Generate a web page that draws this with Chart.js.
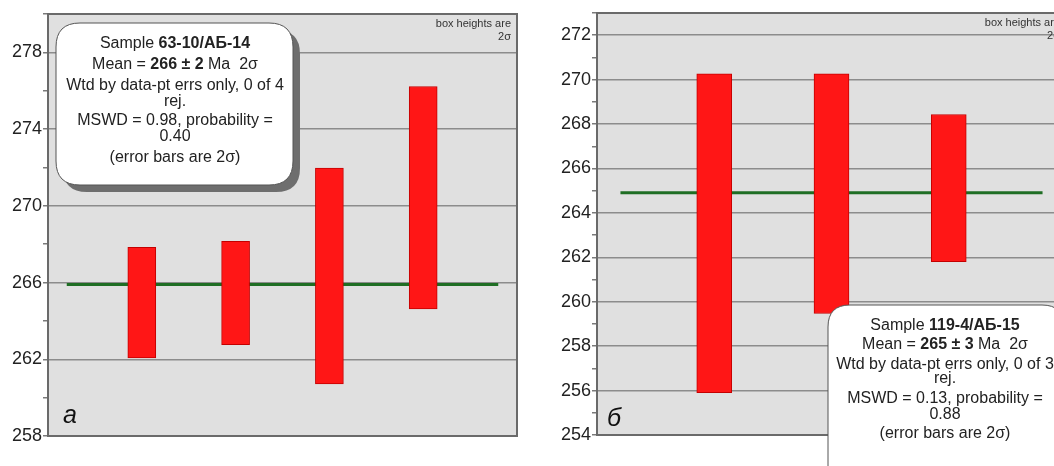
<!DOCTYPE html>
<html>
<head>
<meta charset="utf-8">
<script src="https://cdn.jsdelivr.net/npm/chart.js@4.4.1/dist/chart.umd.min.js"></script>
<style>
  html, body { margin: 0; padding: 0; background: #ffffff; overflow: hidden; width: 1054px; height: 466px; }
  canvas { position: absolute; top: 0; }
</style>
</head>
<body>
<canvas id="chartA" width="524" height="466" style="left:0px"></canvas>
<canvas id="chartB" width="550" height="466" style="left:524px"></canvas>
<script>
// ---- Panel "a": sample 63-10/АБ-14, four grain ages (Ma), 2σ boxes ----
const grainsA = [1, 2, 3, 4];
const lowA = [262.07, 262.76, 260.72, 264.62];
const highA = [267.84, 268.15, 271.97, 276.22];
const meanA = 265.9;
const meanSpanA = [0.2, 4.8];
const yRangeA = [258, 280];
const yLabelStepA = 4;

// ---- Panel "б": sample 119-4/АБ-15, three grain ages (Ma), 2σ boxes ----
const grainsB = [1, 2, 3];
const lowB = [255.91, 259.47, 261.80];
const highB = [270.26, 270.26, 268.43];
const meanB = 264.91;
const meanSpanB = [0.2, 3.8];
const yRangeB = [254, 273];
const yLabelStepB = 2;

const infoA = [
  [['Sample ', 0], ['63-10/АБ-14', 1]],
  [['Mean = ', 0], ['266 ± 2', 1], [' Ma  2σ', 0]],
  [['Wtd by data-pt errs only, 0 of 4', 0]],
  [['rej.', 0]],
  [['MSWD = 0.98, probability =', 0]],
  [['0.40', 0]],
  [['(error bars are 2σ)', 0]]
];
const infoB = [
  [['Sample ', 0], ['119-4/АБ-15', 1]],
  [['Mean = ', 0], ['265 ± 3', 1], [' Ma  2σ', 0]],
  [['Wtd by data-pt errs only, 0 of 3', 0]],
  [['rej.', 0]],
  [['MSWD = 0.13, probability =', 0]],
  [['0.88', 0]],
  [['(error bars are 2σ)', 0]]
];

const FONT = '"Liberation Sans", Arial, sans-serif';
const PLOT_BG = '#e0e0e0';
const GRID = '#8c8c8c';
const FRAME = '#6a6a6a';
const BOX_RED = '#ff1616';
const MEAN_GREEN = '#1f6e24';

function drawRich(ctx, segs, cx, y, size) {
  const fonts = segs.map(s => (s[1] ? 'bold ' : '') + size + 'px ' + FONT);
  let total = 0;
  const widths = segs.map((s, i) => { ctx.font = fonts[i]; const w = ctx.measureText(s[0]).width; total += w; return w; });
  let x = cx - total / 2;
  segs.forEach((s, i) => { ctx.font = fonts[i]; ctx.fillText(s[0], x, y); x += widths[i]; });
}

function roundRect(ctx, x, y, w, h, r) {
  ctx.beginPath();
  ctx.moveTo(x + r, y);
  ctx.lineTo(x + w - r, y);
  ctx.quadraticCurveTo(x + w, y, x + w, y + r);
  ctx.lineTo(x + w, y + h - r);
  ctx.quadraticCurveTo(x + w, y + h, x + w - r, y + h);
  ctx.lineTo(x + r, y + h);
  ctx.quadraticCurveTo(x, y + h, x, y + h - r);
  ctx.lineTo(x, y + r);
  ctx.quadraticCurveTo(x, y, x + r, y);
  ctx.closePath();
}

// Plot background, frame, panel letter, "box heights" note and the statistics box
function panelDecor(cfg) {
  return {
    id: 'panelDecor',
    beforeDraw(chart) {
      const { ctx, chartArea: a } = chart;
      ctx.save();
      ctx.fillStyle = PLOT_BG;
      ctx.fillRect(a.left, a.top, a.right - a.left, a.bottom - a.top);
      ctx.restore();
    },
    afterDraw(chart) {
      const { ctx, chartArea: a } = chart;
      ctx.save();
      // frame
      ctx.strokeStyle = FRAME;
      ctx.lineWidth = 2;
      ctx.strokeRect(a.left, a.top, a.right - a.left, a.bottom - a.top);
      // note in upper right corner
      ctx.fillStyle = '#333333';
      ctx.font = '11px ' + FONT;
      ctx.textAlign = 'right';
      ctx.textBaseline = 'alphabetic';
      ctx.fillText('box heights are', a.right - 6, a.top + 13);
      ctx.fillText('2σ', a.right - 6, a.top + 26);
      // panel letter
      ctx.textAlign = 'left';
      ctx.fillStyle = '#111111';
      ctx.font = 'italic 25px ' + FONT;
      ctx.fillText(cfg.letter, a.left + cfg.letterDx, a.bottom - cfg.letterDy);
      // statistics box
      const b = cfg.box;
      if (b.shadow) {
        ctx.fillStyle = '#6e6e6e';
        roundRect(ctx, b.x + b.shadow, b.y + b.shadow, b.w, b.h, b.r);
        ctx.fill();
      }
      ctx.fillStyle = '#ffffff';
      ctx.strokeStyle = '#555555';
      ctx.lineWidth = 1;
      roundRect(ctx, b.x, b.y, b.w, b.h, b.r);
      ctx.fill();
      ctx.stroke();
      ctx.fillStyle = '#222222';
      ctx.textAlign = 'left';
      cfg.info.forEach((segs, i) => drawRich(ctx, segs, b.cx, cfg.baselines[i], 16));
      ctx.restore();
    }
  };
}

function makePanel(canvasId, grains, low, high, mean, meanSpan, yRange, labelStep, xMax, barPx, plotLeft, pad, cfg) {
  const boxes = grains.map((g, i) => ({ x: g, y: [low[i], high[i]] }));
  const meanLine = meanSpan.map(x => ({ x: x, y: mean }));
  const isLabelled = v => Math.abs(((v - yRange[0]) % labelStep)) < 1e-6;
  return new Chart(document.getElementById(canvasId), {
    type: 'bar',
    data: {
      datasets: [
        {
          type: 'bar',
          data: boxes,
          backgroundColor: BOX_RED,
          borderColor: '#c40000',
          borderWidth: 1,
          borderSkipped: false,
          barThickness: barPx,
          order: 0
        },
        {
          type: 'line',
          data: meanLine,
          borderColor: MEAN_GREEN,
          borderWidth: 3,
          pointRadius: 0,
          fill: false,
          order: 1
        }
      ]
    },
    options: {
      responsive: false,
      animation: false,
      layout: { padding: { left: 0, top: pad.top, right: pad.right, bottom: pad.bottom } },
      plugins: { legend: { display: false }, tooltip: { enabled: false } },
      scales: {
        x: { type: 'linear', min: 0, max: xMax, offset: false, display: false },
        y: {
          type: 'linear',
          min: yRange[0],
          max: yRange[1],
          border: { display: false },
          afterFit(scale) { scale.width = plotLeft; },
          grid: {
            color: ctx => (ctx.tick && isLabelled(ctx.tick.value)) ? GRID : 'rgba(0,0,0,0)',
            lineWidth: 1.5,
            tickColor: '#7a7a7a',
            tickLength: 5,
            drawTicks: true
          },
          ticks: {
            stepSize: labelStep / 2,
            autoSkip: false,
            padding: 1,
            color: '#222222',
            font: { family: FONT, size: 18 },
            callback: v => isLabelled(v) ? String(v) : ''
          }
        }
      }
    },
    plugins: [panelDecor(cfg)]
  });
}

makePanel('chartA', grainsA, lowA, highA, meanA, meanSpanA, yRangeA, yLabelStepA, 5, 28, 48,
  { top: 14, right: 7, bottom: 30 },
  {
    letter: 'a', letterDx: 15, letterDy: 13,
    info: infoA,
    baselines: [48, 69, 90, 106, 125, 141, 162],
    box: { x: 56, y: 23, w: 237, h: 162, r: 24, cx: 175, shadow: 7 }
  });

makePanel('chartB', grainsB, lowB, highB, meanB, meanSpanB, yRangeB, yLabelStepB, 4, 35, 73,
  { top: 13, right: 8, bottom: 31 },
  {
    letter: 'б', letterDx: 10, letterDy: 9,
    info: infoB,
    baselines: [330, 349, 369, 383, 403, 419, 438],
    box: { x: 304, y: 305, w: 236, h: 200, r: 22, cx: 421, shadow: 0 }
  });
</script>
</body>
</html>
